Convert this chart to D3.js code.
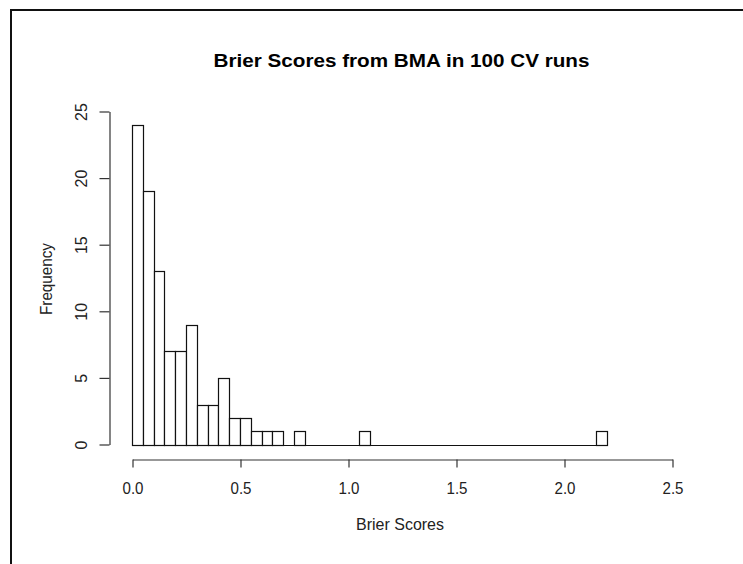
<!DOCTYPE html>
<html>
<head>
<meta charset="utf-8">
<script src="https://cdn.jsdelivr.net/npm/d3@7"></script>
<style>
  body { margin: 0; background: #fff; }
  svg { display: block; font-family: Arial, "Liberation Sans", sans-serif; }
</style>
</head>
<body>
<svg width="743" height="564"></svg>
<script>
// histogram bins (width 0.05) and their counts
const binStarts = [0.00, 0.05, 0.10, 0.15, 0.20, 0.25, 0.30, 0.35, 0.40, 0.45,
  0.50, 0.55, 0.60, 0.65, 0.75, 1.05, 2.15];
const counts = [24, 19, 13, 7, 7, 9, 3, 3, 5, 2, 2, 1, 1, 1, 1, 1, 1];
const binWidth = 0.05;
const xTicks = [0, 0.5, 1.0, 1.5, 2.0, 2.5];
const yTicks = [0, 5, 10, 15, 20, 25];

const svg = d3.select('svg');

// frame (left and top edge only)
svg.append('path')
  .attr('d', 'M11,564V10H743')
  .attr('fill', 'none')
  .attr('stroke', '#111')
  .attr('stroke-width', 2);

const x = d3.scaleLinear().domain([0, 2.5]).range([132, 672]);
const y = d3.scaleLinear().domain([0, 25]).range([444.5, 111.5]);

const bins = binStarts.map((s, i) => ({ x0: s, x1: s + binWidth, count: counts[i] }));

// bars
svg.append('g')
  .selectAll('rect')
  .data(bins)
  .join('rect')
  .attr('x', d => Math.round(x(d.x0)) + 0.5)
  .attr('y', d => Math.round(y(d.count)) + 0.5)
  .attr('width', d => Math.round(x(d.x1)) - Math.round(x(d.x0)))
  .attr('height', d => Math.round(y(0)) - Math.round(y(d.count)))
  .attr('fill', '#fff')
  .attr('stroke', '#111')
  .attr('stroke-width', 1.2);

// baseline along the empty bins
svg.append('line')
  .attr('x1', Math.round(x(0)) + 0.5)
  .attr('x2', Math.round(x(2.2)) + 0.5)
  .attr('y1', Math.round(y(0)) + 0.5)
  .attr('y2', Math.round(y(0)) + 0.5)
  .attr('stroke', '#111')
  .attr('stroke-width', 1.2);

// x axis
const xAxis = svg.append('g')
  .attr('transform', 'translate(0.5,459.5)')
  .call(d3.axisBottom(x).tickValues(xTicks).tickFormat(d3.format('.1f'))
    .tickSize(8).tickPadding(15).tickSizeOuter(0));
xAxis.select('.domain').attr('stroke', '#333').attr('stroke-width', 1.2);
xAxis.selectAll('line').attr('stroke', '#333').attr('stroke-width', 1.2);
xAxis.selectAll('text')
  .attr('font-size', 16)
  .attr('fill', '#222')
  .attr('textLength', 21)
  .attr('lengthAdjust', 'spacingAndGlyphs')
  .attr('font-family', 'Arial, "Liberation Sans", sans-serif');

// y axis
const yAxis = svg.append('g')
  .attr('transform', 'translate(109.5,0)')
  .call(d3.axisLeft(y).tickValues(yTicks).tickSize(10).tickPadding(0).tickSizeOuter(0));
yAxis.select('.domain').attr('stroke', '#333').attr('stroke-width', 1.2);
yAxis.selectAll('line').attr('stroke', '#333').attr('stroke-width', 1.2);
yAxis.selectAll('text')
  .attr('x', 0)
  .attr('dy', 0)
  .attr('text-anchor', 'middle')
  .attr('transform', 'translate(-22.5,0) rotate(-90)')
  .attr('font-size', 16)
  .attr('fill', '#222')
  .attr('font-family', 'Arial, "Liberation Sans", sans-serif');

// titles
svg.append('text')
  .attr('x', 401.5)
  .attr('y', 67)
  .attr('text-anchor', 'middle')
  .attr('textLength', 376)
  .attr('lengthAdjust', 'spacingAndGlyphs')
  .style('font-size', '18px')
  .style('font-weight', 'bold')
  .attr('fill', '#000')
  .text('Brier Scores from BMA in 100 CV runs');

svg.append('text')
  .attr('x', 400)
  .attr('y', 530)
  .attr('text-anchor', 'middle')
  .attr('textLength', 88)
  .attr('lengthAdjust', 'spacingAndGlyphs')
  .style('font-size', '17px')
  .attr('fill', '#222')
  .text('Brier Scores');

svg.append('text')
  .attr('transform', 'translate(52,279) rotate(-90)')
  .attr('text-anchor', 'middle')
  .attr('textLength', 72)
  .attr('lengthAdjust', 'spacingAndGlyphs')
  .style('font-size', '17px')
  .attr('fill', '#222')
  .text('Frequency');
</script>
</body>
</html>
